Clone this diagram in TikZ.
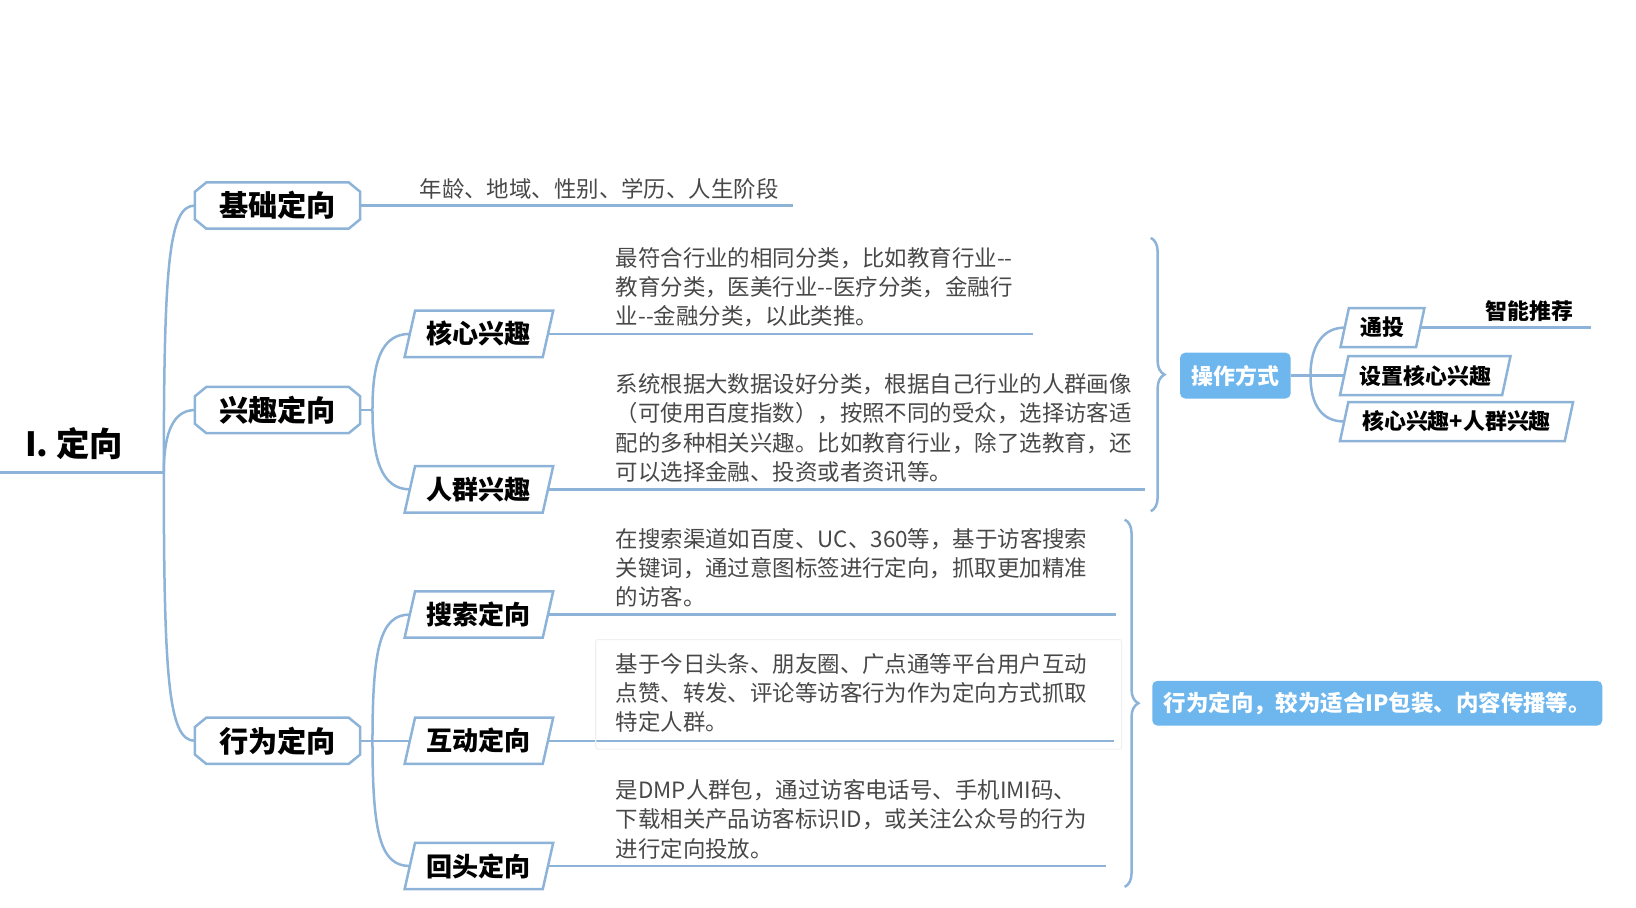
\documentclass[tikz,border=0pt]{standalone}
\usepackage{fontspec}
\setmainfont{Noto Sans CJK SC}
\usepackage{xcolor}
\usepackage{tikz}
\usetikzlibrary{decorations.pathreplacing}
\definecolor{branch}{HTML}{8DB4D8}
\definecolor{boxblue}{HTML}{6DB6EE}
\definecolor{notegray}{HTML}{484848}
\def\width{1568}
\def\hauteur{870}
% outline of a topic node: rectangle with cut corners
\def\cutbox#1{\draw[line] ([xshift=11pt]#1.north west) -- ([xshift=-11pt]#1.north east) -- ([yshift=-9pt]#1.north east) -- ([yshift=9pt]#1.south east) -- ([xshift=-11pt]#1.south east) -- ([xshift=11pt]#1.south west) -- ([yshift=9pt]#1.south west) -- ([yshift=-9pt]#1.north west) -- cycle;}
% outline of a slanted node
\def\slantbox#1#2{\draw[line] ([xshift=-#2]#1.south west) -- ([xshift=#2]#1.north west) -- ([xshift=#2]#1.north east) -- ([xshift=-#2]#1.south east) -- cycle;}

\begin{document}
\begin{tikzpicture}[x=1pt, y=-1pt,
	line/.style={draw=branch, line width=2.4pt},
	topic/.style={rectangle, minimum width=158pt, minimum height=44pt, inner sep=0pt, font=\fontsize{28}{30}\selectfont\bfseries},
	sub/.style={rectangle, minimum width=132pt, minimum height=44pt, inner sep=0pt, font=\fontsize{25}{28}\selectfont\bfseries},
	tag/.style={rectangle, minimum height=37pt, inner sep=0pt, font=\fontsize{21}{24}\selectfont\bfseries},
	boxed/.style={rectangle, rounded corners=5pt, fill=boxblue, text=white, inner xsep=11pt, minimum height=44pt, font=\fontsize{21}{24}\selectfont\bfseries},
	note/.style={anchor=south west, align=left, inner sep=0pt, text=notegray, font=\fontsize{21.5}{28}\selectfont},
	curly/.style={line, decorate, decoration={brace, amplitude=13pt}}]
	\useasboundingbox (0,0) rectangle (\width,\hauteur);
	%\draw[step=100, line width=0.2pt, black!20!white] (0,0) grid (\width,\hauteur);

	% root
	\node[font=\fontsize{32}{34}\selectfont\bfseries] (root) at (71,425) {I. 定向};
	\coordinate (rootL) at (0,453);
	\coordinate (hub) at (157,453);
	\draw[line] (rootL) -- (hub);

	% main topics
	\node[topic] (base) at (266,197) {基础定向};
	\node[topic] (interest) at (266,393) {兴趣定向};
	\node[topic] (behav) at (266,710) {行为定向};
	\cutbox{base} \cutbox{interest} \cutbox{behav}
	\draw[line] (hub) .. controls +(0,-200) and +(-25,0) .. (base.west);
	\draw[line] (hub) .. controls +(0,-40) and +(-20,0) .. (interest.west);
	\draw[line] (hub) .. controls +(0,200) and +(-25,0) .. (behav.west);

	% base
	\coordinate (baseEnd) at (760,197);
	\draw[line] (base.east) -- (baseEnd);
	\node[note] (baseNote) at (402,191.5) {年龄、地域、性别、学历、人生阶段};

	% interest
	\coordinate (fi) at (357,393);
	\draw[line] (interest.east) -- (fi);
	\node[sub] (kc) at (459,320) {核心兴趣};
	\node[sub] (rq) at (459,469) {人群兴趣};
	\slantbox{kc}{5pt} \slantbox{rq}{5pt}
	\draw[line] (fi) .. controls +(0,-45) and +(-28,0) .. (kc.west);
	\draw[line] (fi) .. controls +(0,45) and +(-28,0) .. (rq.west);
	\coordinate (kcEnd) at (990,320);
	\coordinate (rqEnd) at (1097,469);
	\draw[line] (kc.east) -- (kcEnd);
	\draw[line] (rq.east) -- (rqEnd);
	\node[note] (kcNote) at (590,313.5) {最符合行业的相同分类，比如教育行业-{}-\\教育分类，医美行业-{}-医疗分类，金融行\\业-{}-金融分类，以此类推。};
	\node[note] (rqNote) at (590,462.5) {系统根据大数据设好分类，根据自己行业的人群画像\\（可使用百度指数），按照不同的受众，选择访客适\\配的多种相关兴趣。比如教育行业，除了选教育，还\\可以选择金融、投资或者资讯等。};

	% behaviour
	\coordinate (fb) at (357,710);
	\draw[line] (behav.east) -- (fb);
	\node[sub] (ss) at (459,589) {搜索定向};
	\node[sub] (hd) at (459,710) {互动定向};
	\node[sub] (ht) at (459,830) {回头定向};
	\slantbox{ss}{5pt} \slantbox{hd}{5pt} \slantbox{ht}{5pt}
	\draw[line] (fb) .. controls +(0,-90) and +(-28,0) .. (ss.west);
	\draw[line] (fb) -- (hd.west);
	\draw[line] (fb) .. controls +(0,90) and +(-28,0) .. (ht.west);
	\coordinate (ssEnd) at (1070,589);
	\coordinate (hdEnd) at (1068,710);
	\coordinate (htEnd) at (1060,830);
	\draw[line] (ss.east) -- (ssEnd);
	\draw[line] (hd.east) -- (hdEnd);
	\draw[line] (ht.east) -- (htEnd);
	\draw[draw=black!6, line width=1pt, rounded corners=2pt] (571,613) rectangle (1075,718);
	\node[note] (ssNote) at (590,582.5) {在搜索渠道如百度、UC、360等，基于访客搜索\\关键词，通过意图标签进行定向，抓取更加精准\\的访客。};
	\node[note] (hdNote) at (590,702.5) {基于今日头条、朋友圈、广点通等平台用户互动\\点赞、转发、评论等访客行为作为定向方式抓取\\特定人群。};
	\node[note] (htNote) at (590,823.5) {是DMP人群包，通过访客电话号、手机IMI码、\\下载相关产品访客标识ID，或关注公众号的行为\\进行定向投放。};

	% braces
	\coordinate (b1top) at (1103,228);
	\coordinate (b1bot) at (1103,490);
	\draw[curly] (b1top) -- (b1bot);
	\coordinate (b2top) at (1078,498);
	\coordinate (b2bot) at (1078,850);
	\draw[curly] (b2top) -- (b2bot);

	% operation
	\node[boxed] (op) at (1184,360) {操作方式};
	\coordinate (fc) at (1256,360);
	\draw[line] (op.east) -- (fc);
	\node[tag, minimum width=72pt] (tt) at (1325,314) {通投};
	\node[tag, minimum width=155pt] (sz) at (1366,360) {设置核心兴趣};
	\node[tag, minimum width=215pt] (hh) at (1396,404) {核心兴趣+人群兴趣};
	\slantbox{tt}{4pt} \slantbox{sz}{4pt} \slantbox{hh}{4pt}
	\draw[line] (fc) .. controls +(0,-30) and +(-20,0) .. (tt.west);
	\draw[line] (fc) -- (sz.west);
	\draw[line] (fc) .. controls +(0,30) and +(-20,0) .. (hh.west);
	\coordinate (ttEnd) at (1525,314);
	\draw[line] (tt.east) -- (ttEnd);
	\node[font=\fontsize{21}{24}\selectfont\bfseries, anchor=south east, inner sep=0pt] (smart) at (1508,308.5) {智能推荐};

	% summary
	\node[boxed, font=\fontsize{21.5}{24}\selectfont\bfseries, minimum width=430pt, minimum height=43pt] (fit) at (1320,674) {行为定向，较为适合IP包装、内容传播等。};
\end{tikzpicture}
\end{document}
